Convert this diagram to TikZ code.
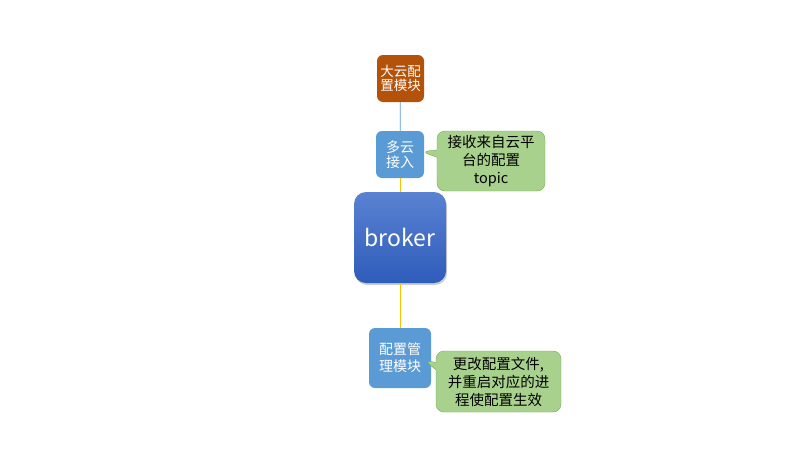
\documentclass[tikz,border=0pt]{standalone}
\usepackage{fontspec}
\setmainfont{Noto Sans CJK SC}
\usetikzlibrary{shapes.callouts,shadows,calc}
\definecolor{cfgbrown}{HTML}{B4520A}
\definecolor{boxblue}{HTML}{5B9BD5}
\definecolor{brktop}{HTML}{5A82D2}
\definecolor{brkbot}{HTML}{2E5CBA}
\definecolor{notefill}{HTML}{A9D18E}
\definecolor{noteline}{HTML}{70AD47}
\definecolor{linkyellow}{HTML}{FFC000}
\tikzset{
  module/.style={rectangle, rounded corners=6pt, fill=boxblue, text=white, align=center, inner sep=2pt, font=\fontsize{14}{17}\selectfont},
  note/.style={rectangle callout, rounded corners=8pt, fill=notefill, draw=noteline, align=center, inner sep=2pt, font=\fontsize{14.5}{18}\selectfont},
  bluelink/.style={boxblue, line width=0.8pt},
  yellowlink/.style={linkyellow, line width=0.8pt}
}
\begin{document}
\begin{tikzpicture}[x=1pt,y=-1pt]
\useasboundingbox (0,0) rectangle (800,450);
\draw (400.5,78.5) node(bigcfg) [module, fill=cfgbrown, minimum width=47pt, minimum height=47pt, font=\fontsize{13.5}{14.5}\selectfont] {大云配\\置模块};
\draw (400,154.5) node(multicloud) [module, minimum width=48pt, minimum height=47pt, font=\fontsize{14}{15}\selectfont] {多云\\接入};
\draw (400,237.5) node(broker) [rectangle, rounded corners=12pt, top color=brktop, bottom color=brkbot, text=white, minimum width=92pt, minimum height=91pt, font=\fontsize{23}{26}\selectfont, drop shadow={shadow xshift=1pt, shadow yshift=-2pt, fill=black!50, opacity=.4}] {broker};
\draw (400,358) node(cfgmgr) [module, minimum width=62pt, minimum height=60pt] {配置管\\理模块};
\coordinate (tip1) at (421,151.5);
\coordinate (tip2) at (424,360);
\draw (491,161) node(note1) [note, minimum width=108pt, minimum height=60pt, callout absolute pointer={(tip1)}] {接收来自云平\\台的配置\\topic};
\draw (498.5,381.5) node(note2) [note, minimum width=125pt, minimum height=61pt, callout absolute pointer={(tip2)}] {更改配置文件,\\并重启对应的进\\程使配置生效};
\draw[bluelink] (bigcfg) -- (multicloud);
\draw[yellowlink] (multicloud) -- (broker);
\draw[yellowlink] (broker) -- (cfgmgr);
\end{tikzpicture}
\end{document}
